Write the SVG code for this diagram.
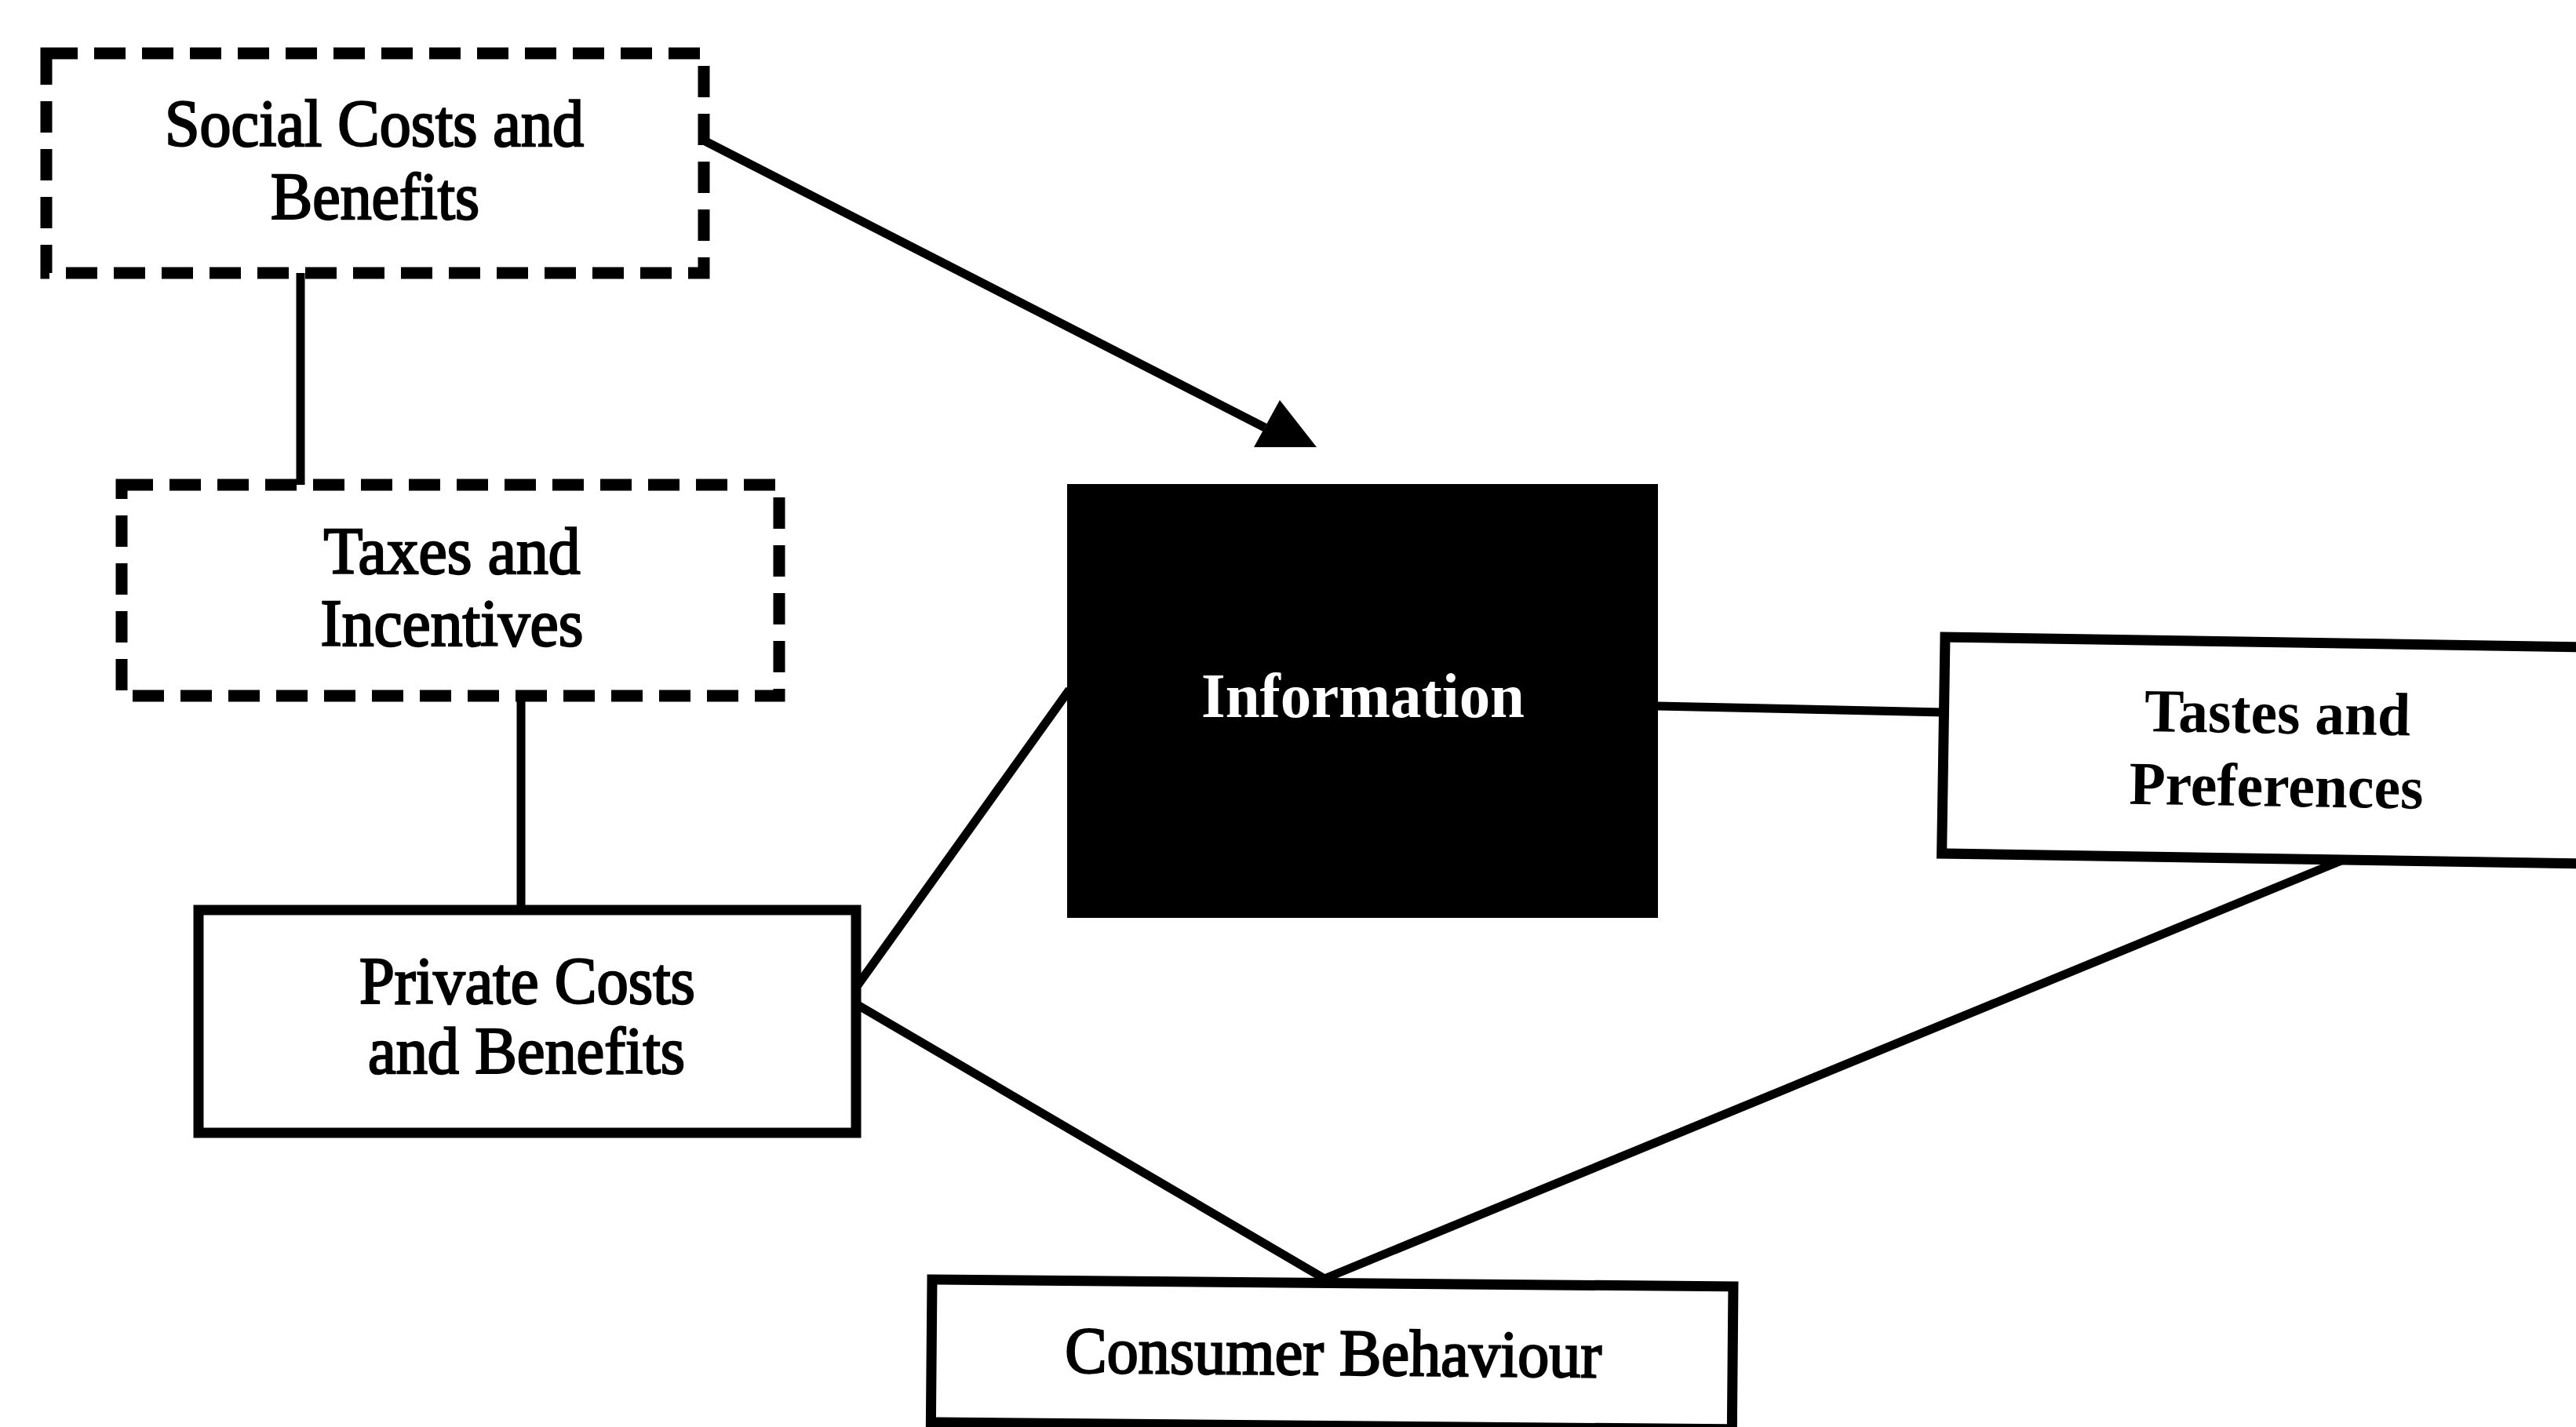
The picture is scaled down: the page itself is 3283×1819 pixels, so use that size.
<svg xmlns="http://www.w3.org/2000/svg" width="3283" height="1819" viewBox="0 0 3283 1819">
  <style>
    .dashed { fill: #ffffff; stroke: #000000; stroke-width: 15; stroke-dasharray: 40 21; }
    .solid { fill: #ffffff; stroke: #000000; stroke-width: 13; }
    .dark { fill: #000000; stroke: #000000; stroke-width: 6; }
    .conn { fill: none; stroke: #000000; stroke-width: 11; }
    .lbl { font-family: "Liberation Serif", "Times New Roman", serif; font-size: 84px; fill: #000000; stroke: #000000; stroke-width: 2.4; text-anchor: middle; }
    .lbl-bold { font-family: "Liberation Serif", "Times New Roman", serif; font-size: 78px; font-weight: bold; fill: #000000; text-anchor: middle; }
    .lbl-inv { font-family: "Liberation Serif", "Times New Roman", serif; font-size: 80px; font-weight: bold; fill: #ffffff; text-anchor: middle; }
  </style>
  <rect width="3283" height="1819" fill="#ffffff"/>

  <!-- connectors -->
  <g id="connectors">
    <line class="conn" x1="383" y1="348" x2="383" y2="618"/>
    <line class="conn" x1="664" y1="888" x2="664" y2="1160"/>
    <line class="conn" x1="893" y1="177" x2="1612" y2="545"/>
    <polygon points="1598,570 1678,570 1631,510" fill="#000000"/>
    <line class="conn" x1="1363" y1="879" x2="1093" y2="1256"/>
    <line class="conn" x1="2112" y1="900" x2="2477" y2="908"/>
    <line class="conn" x1="1093" y1="1281" x2="1688" y2="1630"/>
    <line class="conn" x1="2984" y1="1097" x2="1688" y2="1630"/>
  </g>

  <g id="social-costs">
    <rect class="dashed" x="59" y="68" width="838" height="280"/>
    <text class="lbl" x="477" y="186" textLength="534" lengthAdjust="spacingAndGlyphs">Social Costs and</text>
    <text class="lbl" x="478" y="279" textLength="266" lengthAdjust="spacingAndGlyphs">Benefits</text>
  </g>

  <g id="taxes-incentives">
    <rect class="dashed" x="155" y="618" width="838" height="269"/>
    <text class="lbl" x="576" y="731" textLength="327" lengthAdjust="spacingAndGlyphs">Taxes and</text>
    <text class="lbl" x="576" y="823" textLength="335" lengthAdjust="spacingAndGlyphs">Incentives</text>
  </g>

  <g id="private-costs">
    <rect class="solid" x="253" y="1160" width="838" height="284"/>
    <text class="lbl" x="672" y="1279" textLength="428" lengthAdjust="spacingAndGlyphs">Private Costs</text>
    <text class="lbl" x="671" y="1368" textLength="404" lengthAdjust="spacingAndGlyphs">and Benefits</text>
  </g>

  <g id="information">
    <rect class="dark" x="1363" y="620" width="747" height="547"/>
    <text class="lbl-inv" x="1737" y="914" textLength="412" lengthAdjust="spacingAndGlyphs">Information</text>
  </g>

  <g id="tastes-preferences" transform="rotate(0.9 2477 812)">
    <rect class="solid" x="2479" y="812" width="840" height="276"/>
    <text class="lbl-bold" x="2904" y="928" textLength="339" lengthAdjust="spacingAndGlyphs">Tastes and</text>
    <text class="lbl-bold" x="2904" y="1021" textLength="375" lengthAdjust="spacingAndGlyphs">Preferences</text>
  </g>

  <g id="consumer-behaviour" transform="rotate(0.5 1188 1630)">
    <rect class="solid" x="1188" y="1631" width="1021" height="182"/>
    <text class="lbl" x="1700" y="1748" textLength="684" lengthAdjust="spacingAndGlyphs">Consumer Behaviour</text>
  </g>
</svg>
